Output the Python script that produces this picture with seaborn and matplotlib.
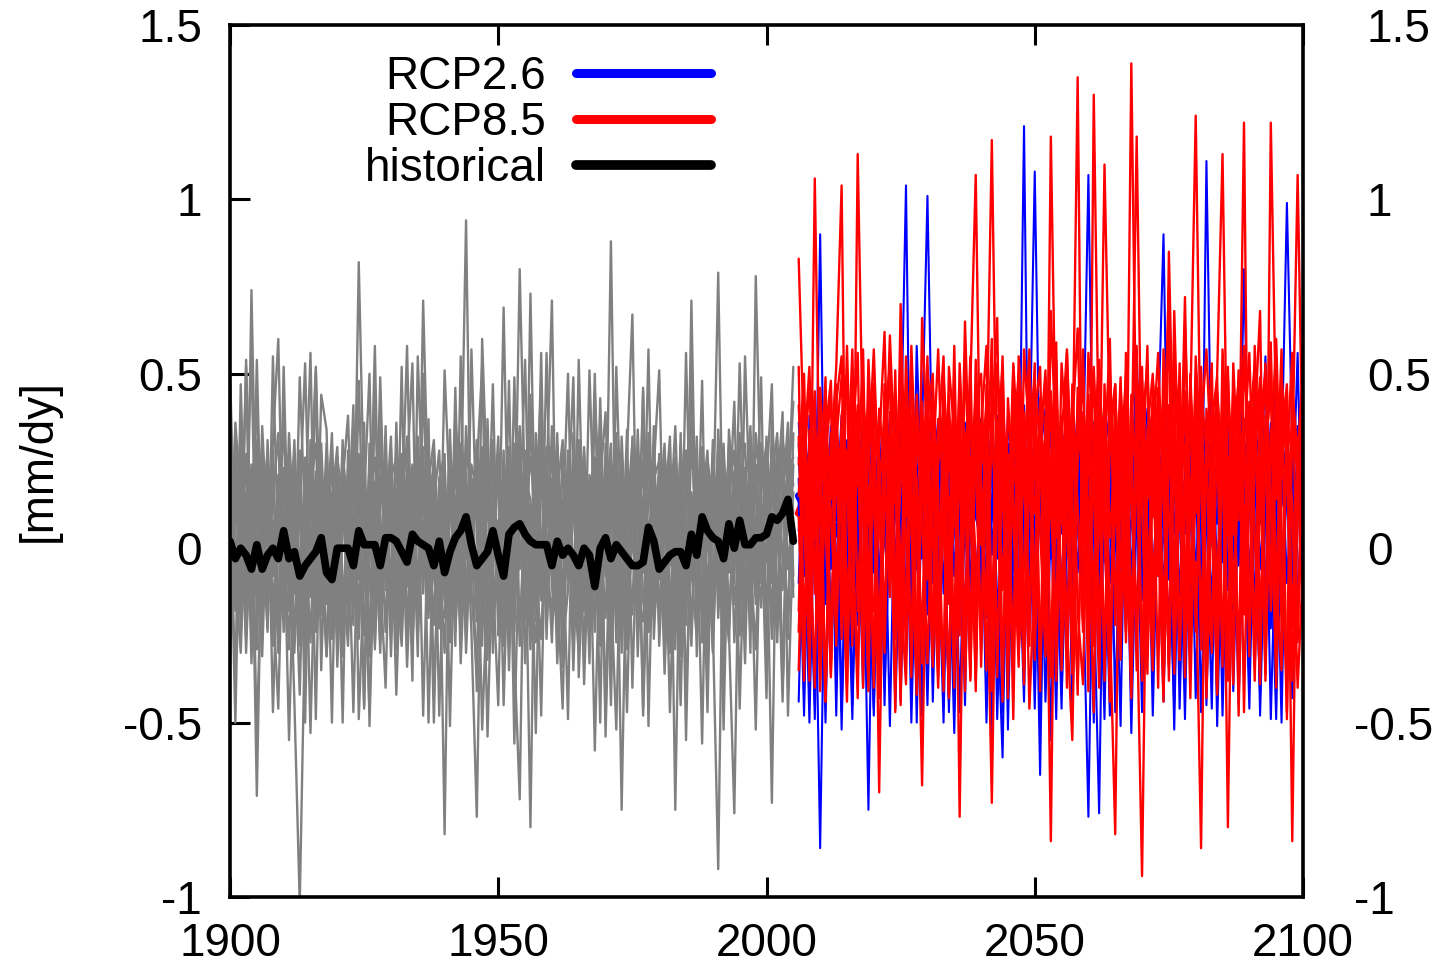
import numpy as np
import pandas as pd
import matplotlib
matplotlib.use("Agg")
import matplotlib.pyplot as plt
from matplotlib.lines import Line2D
from matplotlib.transforms import ScaledTranslation
import seaborn as sns

# ---------------- data (values in hundredths of mm/dy) ----------------
hist_start = 1900
proj_start = 2006

hist_mean = [2, -3, 0, -2, -6, 1, -6, -2, 0, -3,
             5, -3, -1, -8, -5, -3, -1, 3, -7, -9,
             0, 0, 0, -5, 5, 1, 1, 1, -5, 3,
             3, 2, -1, -4, 4, 2, 1, 0, -5, 2,
             -7, -1, 3, 5, 9, 1, -5, -3, -1, 5,
             -2, -8, 4, 6, 7, 4, 2, 1, 1, 1,
             -5, 2, -2, 0, -2, -5, 0, -2, -11, 0,
             3, -3, 1, -1, -3, -5, -5, -4, 6, 2,
             -6, -4, -2, -1, -1, -5, 4, -2, 9, 5,
             3, 2, -3, 7, 0, 8, 1, 1, 3, 3,
             4, 9, 8, 10, 14, 2]

rcp26_mean = [15, 12, 9, 11,
              7, 6, 8, 5, 3, -2, 8, 16, 12, 9,
              11, 13, 10, 5, 12, 17, 13, 9, 6, 14,
              20, 17, 19, 19, 14, 12, 10, 13, 11, 12,
              6, 2, -1, 7, 11, 14, 9, 6, 5, 9,
              7, 5, 8, 11, 8, 5, 9, 11, 12, 14,
              16, 10, 5, 4, 16, 12, 9, 14, 19, 17,
              18, 12, 18, 16, 13, 10, 8, 7, 5, 12,
              19, 15, 12, 10, 9, 12, 14, 15, 17, 13,
              11, 15, 19, 18, 20, 19, 18, 15, 13, 12,
              12]

rcp85_mean = [10, 14, 8, 16,
              11, 7, 13, 9, 15, 18, 12, 8, 14, 10,
              6, 12, 17, 13, 9, 15, 19, 11, 7, 14,
              16, 12, 9, 17, 13, 8, 15, 20, 14, 11,
              9, 16, 12, 18, 14, 10, 17, 13, 19, 15,
              11, 8, 14, 10, 17, 13, 20, 15, 18, 12,
              16, 21, 14, 18, 11, 9, 17, 15, 22, 16,
              13, 18, 15, 20, 12, 17, 14, 19, 16, 11,
              18, 15, 20, 14, 17, 22, 13, 19, 16, 21,
              15, 19, 17, 14, 23, 18, 16, 20, 15, 19,
              17]

# historical ensemble members, 1900-2005
hist_m01 = [12, -38, 47, -8, 21, -55, 5, -23, 31, 60,
            -12, 8, -44, -102, -20, 15, 52, -5, -31, 2,
            26, -18, 4, 41, -49, -6, 19, -27, 35, -9,
            14, -42, 7, 58, -14, 30, -3, 17, -50, 16,
            5, -27, 38, 10, 94, -12, -36, 21, -5, 47,
            -18, 9, 27, -56, 12, -4, 44, -21, 36, -10,
            18, -33, 6, 50, -15, 22, -39, 8, -24, 19,
            39, -11, -52, 15, 3, -19, 34, -7, 57, -26,
            9, 30, -16, 4, -45, 22, 13, -8, 48, -30,
            6, 25, -37, 17, -10, 53, 1, -20, 33, 12,
            -43, 37, 8, -12, 30, 18]
hist_m02 = [-20, 15, -5, 52, -28, 20, -12, 26, -47, 4,
            37, -18, 22, -6, 14, -53, 9, 27, -16, 3,
            -25, 19, 38, -10, 82, 12, -31, 45, -7, -40,
            20, 6, -24, 15, -38, 55, 10, -15, 29, -2,
            -30, 18, 2, -20, 35, 7, -41, 60, 14, -9,
            26, -45, 11, 3, 30, -19, 40, -8, -26, 15,
            -6, 33, -21, 12, 49, -37, 5, 19, -13, 36,
            -54, 8, 29, -30, 16, 1, -12, 46, -24, 11,
            21, -36, 6, 35, -9, -18, 57, -31, 14, 3,
            -22, -92, 20, 8, 42, -16, 23, -4, -29, 18,
            30, -10, 16, 39, -48, 7]
hist_m03 = [28, -8, -30, 12, 55, -22, 35, 4, -14, -46,
            16, 27, -9, 19, -38, 6, -18, 44, 34, -26,
            7, -31, 23, 15, -4, 36, -51, 9, -27, 21,
            -11, 28, 17, -34, 5, -16, 48, 22, -8, 12,
            -82, 26, -14, 30, -3, 20, 11, -28, 37, -19,
            4, 22, -35, 17, 8, 54, -13, -27, 19, 6,
            29, -10, -46, 20, -35, 13, 27, -5, -20, 43,
            -8, 88, -14, 21, -29, 10, 24, -48, 5, 16,
            -19, 11, 32, -24, 18, -7, 36, 12, -56, 25,
            14, -13, 28, -21, 6, 33, -26, 19, 2, -17,
            24, -6, 31, -40, 15, 42]
hist_m04 = [-10, 36, 14, -26, 9, 44, -31, 18, 5, -19,
            23, -4, 31, -17, 8, 56, -24, 12, -9, 29,
            -34, 6, 21, -15, 27, -2, -47, 17, 33, -12,
            25, -20, 10, 32, -28, 15, -7, 37, -43, 3,
            19, -12, 28, -33, 6, 24, 16, -52, -10, 31,
            -25, 14, 20, -6, 80, 12, -80, 26, 3, -17,
            35, 9, -29, -12, 22, -4, 18, -33, 45, 7,
            -20, 26, 4, -10, 34, -40, 15, 8, -18, 23,
            51, -14, -22, 19, 5, 28, -25, 16, -3, -36,
            20, 10, -18, 30, -27, 4, 17, 35, -12, -2,
            18, 47, -21, 14, 36, -8]
hist_m05 = [30, -14, 8, -22, 74, -5, 19, 12, -28, 21,
            -16, 33, 3, -42, 20, -10, 51, -35, 15, 5,
            18, -8, -28, 24, 11, -45, 30, 2, -14, 35,
            -22, 9, 27, -11, 16, -31, 50, -6, 13, 28,
            -15, 34, -24, 7, 22, -9, 29, 14, -54, 4,
            32, -19, 6, 25, -28, 17, 10, -11, 56, -23,
            12, 21, -16, 28, -7, -30, 24, 15, -58, 9,
            22, -25, 52, 1, -14, 27, -31, 12, 7, -20,
            -6, 26, 14, -29, 33, -44, 8, 24, -19, 17,
            4, 79, -10, -27, 21, 13, -33, 29, 16, -5,
            -24, 20, 33, -41, 28, 10]
hist_m06 = [-33, 22, 10, -17, -6, 29, 16, -24, 55, -3,
            8, -29, 17, 25, -13, 31, -22, 3, 19, -50,
            26, 13, -15, 9, -26, 21, -4, 58, -18, 7,
            32, -27, -3, 19, -21, 11, 27, -13, 23, -48,
            10, 2, -18, 29, 15, -24, -77, 17, 8, 25,
            -12, 28, -20, 49, -6, 20, 14, -53, 23, 5,
            -27, 16, 31, -9, 10, 26, -18, 51, 2, -23,
            13, 30, -19, 6, -47, 18, -4, 25, -15, 35,
            -28, 7, 20, -11, 29, -55, 16, 1, 22, -14,
            31, -20, 9, 26, -16, -1, 23, -30, 78, 11,
            -4, 29, -18, 22, 12, 52]
hist_m07 = [17, -50, 26, 3, -13, 31, -20, 10, 24, -27,
            -5, 20, -30, 13, 53, -8, 22, -19, 9, 27,
            -13, 31, -24, 5, 19, -46, 14, 26, -3, 18,
            -26, 36, -12, 8, 24, -17, 71, 10, -22, 20,
            27, -51, 15, -7, 30, 18, -21, 5, 25, -30,
            8, -15, 48, -24, 20, 2, -29, 16, 27, -6,
            -19, 24, 7, -49, 33, -11, 12, -25, 18, 28,
            -3, -34, 19, -75, 10, 30, -22, 14, 26, -9,
            16, -31, 24, 11, -20, 56, -6, -26, 29, 8,
            -17, 34, 2, -23, 15, 27, -12, 9, -52, 22,
            14, -26, 4, 31, 20, -11]
hist_m08 = [5, 28, -19, 54, -4, -29, 23, -11, 15, 33,
            -24, 11, 27, -14, 2, 24, -49, 30, -7, 14,
            29, -22, 9, -47, 16, 27, -10, -25, 21, 4,
            13, -16, 52, -28, 23, 3, -9, 19, 31, -23,
            -6, 21, -28, 55, -17, 12, 26, -13, -32, 18,
            22, 7, -27, 14, 35, -21, 73, -8, -14, 29,
            -11, -22, 25, 17, -28, 31, 3, -16, 22, -50,
            30, 14, -7, 27, -23, 6, 20, -46, 33, 1,
            12, -20, 29, -75, 17, 24, -9, 32, -27, 10,
            -30, 16, 30, -7, 22, -25, 55, 6, -14, 27,
            9, -20, 26, -3, -17, 24]
hist_m09 = [-27, 9, 33, -12, 24, 15, -22, 31, -8, 20,
            12, -55, 5, 28, -21, 17, 30, -10, 25, -18,
            3, 24, -19, 30, -9, 14, 50, -29, 12, 26,
            -31, 17, -6, 22, 53, -25, 8, -20, 18, 7,
            24, -19, 33, 12, -26, 57, 3, -15, 21, -8,
            -45, 25, 13, -18, 9, 27, -23, 33, -10, 19,
            71, -25, 14, -3, 27, 8, -31, 21, 13, -17,
            26, -12, 33, -26, 20, 11, -17, 45, -51, 15,
            -9, 25, -30, 18, 10, -22, 31, 4, 19, -25,
            22, -11, 14, -24, -76, 18, 30, -19, 5, 49,
            -28, 13, 20, 28, -6, 16]
hist_m10 = [22, -18, -2, 27, -33, 13, 29, -15, 8, -24,
            52, -9, 18, -28, 26, -14, 4, 21, -31, 16,
            -17, 27, 11, -22, 48, -7, 24, 14, -30, 19,
            6, -29, 25, 15, -19, 32, -13, 27, -8, -21,
            51, 13, -7, 24, -30, 9, 31, -18, 14, 27,
            -14, 69, -9, 30, -23, 5, 26, 10, -48, 21,
            4, 30, -22, 19, -29, 54, -7, 12, 26, -14,
            17, -45, 24, 9, -20, 32, -14, -21, 15, 28,
            -23, 20, -5, 26, -31, 15, 50, -18, 11, -47,
            27, 6, -25, 34, 12, -20, 8, 25, -16, 30,
            12, -73, 28, 17, -26, 33]
hist_m11 = [51, -6, 21, -30, 16, -71, 12, 27, -18, 9,
            -21, 25, -13, 49, 7, -27, 18, -6, 30, -11,
            14, -50, 28, 6, -17, 23, -29, 19, 9, -24,
            29, -9, -28, 16, 4, 27, -48, 13, 24, -15,
            -20, 30, 9, -25, 18, -3, 23, 52, -21, 12,
            17, -28, 29, -11, 24, -33, 7, 21, -15, 56,
            -8, 20, -34, 26, 13, -20, 29, -10, 50, -28,
            9, 23, -27, 32, -4, 19, 28, -15, -24, 20,
            25, 14, -47, 8, 23, -19, 71, -13, 27, 13,
            -29, 21, -6, 18, 28, -46, 11, -24, 24, -10,
            32, 5, -27, 19, 25, -14]
hist_m12 = [-14, 31, -24, 16, -20, 54, -9, 2, 28, -30,
            19, 3, -25, 21, -50, 28, 11, -17, 6, 33,
            -28, 16, -6, 27, 21, -25, 9, -13, 49, -4,
            20, 26, -18, 3, -27, 19, 29, -50, 10, -12,
            15, -22, 46, -16, 26, 20, -14, 29, -27, 7,
            -4, 18, 23, -30, -72, 28, -10, 12, 47, -26,
            20, -14, 28, 7, -24, 30, 15, -28, 9, 24,
            -49, 20, 12, -17, 27, 67, -21, 10, 30, -19,
            27, -16, 11, -23, 30, 4, -28, 20, 13, 28,
            -13, 28, -52, 20, 1, 24, -22, 31, -5, 15,
            -19, 25, 10, -44, 23, 26]

# RCP2.6 ensemble members, 2006-2100
rcp26_m1 = [20, -42, 38, 5,
            -86, 12, 31, -48, 27, -8, 40, 15, -40, 22,
            6, 35, -45, 26, -4, 30, 17, -25, 58, 9,
            -12, 28, 3, -50, 21, 36, -9, 14, 33, -20,
            25, 8, -46, 30, 16, -11, 39, 2, 121, -17,
            24, -52, 12, 35, -6, 20, 29, -24, 10, 37,
            -14, 23, 6, -49, 32, 15, -9, 38, -21, 18,
            27, -5, 34, 11, -44, 22, 4, 40, -18, 13,
            30, -12, 19, 36, -51, 9, 25, -3, 33, 14,
            -40, 29, 7, 55, -16, 21, 31, -10, 18, 35,
            5]
rcp26_m2 = [-10, 33, 8, -45,
            18, 42, -6, 24, -52, 13, 29, -14, 36, 2,
            -48, 20, 11, 38, -9, 26, 104, -18, 23, 7,
            31, -44, 16, 37, -2, 22, -47, 12, 27, 40,
            -13, 19, 35, -49, 8, 30, -7, 24, 41, -19,
            13, 32, -11, 21, 38, -42, 5, 28, 16, -9,
            -77, 20, 34, -4, 25, 9, -51, 37, 14, 27,
            -15, 31, 19, -8, 36, 2, -45, 26, 39, 11,
            22, -19, 33, 8, 28, -48, 15, 41, -5, 20,
            34, 6, -42, 27, 13, 54, -12, 23, -1, 30,
            17]
rcp26_m3 = [30, -8, 15, -49,
            24, 6, 35, -40, 19, 28, -10, 33, 12, -75,
            21, -13, 30, 9, 37, -44, 16, 25, -6, 34,
            101, 14, -21, 27, 4, -53, 20, 36, -11, 17,
            29, -16, 10, 38, -47, 23, 5, -8, 31, 18,
            -46, 27, 40, -3, 15, 33, -19, 22, 8, 35,
            12, -50, 26, 37, -10, 20, 30, -22, 9, 57,
            -6, 24, -48, 16, 33, 7, 28, -14, 21, 38,
            -9, 26, 12, -46, 35, 18, -7, 30, 2, 24,
            37, -18, 14, 29, -49, 10, 33, 19, -4, 26,
            38]
rcp26_m4 = [5, 27, -43, 34,
            -12, 22, 10, 37, -47, 15, 31, 3, -18, 27,
            36, -9, 18, -51, 24, 11, -14, 33, 20, -3,
            25, 38, -17, 9, 30, -8, 22, -45, 35, 13,
            2, -20, 28, 15, 37, -52, 19, 33, -4, 24,
            108, 11, -18, 26, 6, -46, 34, 17, 39, 1,
            22, -12, -76, 30, 12, 36, -5, 21, -44, 29,
            16, 40, -11, 24, 5, -22, 32, 14, -49, 27,
            9, 34, 20, -16, 26, -4, 38, -41, 17, 31,
            -8, 22, 36, -14, 28, 16, -50, 33, 8, 56,
            -15]
rcp26_m5 = [36, 12, -50, 18,
            29, -42, 17, 8, 38, -13, 23, -4, 30, 16,
            -46, 31, 2, -11, 28, 39, -19, 13, 26, -48,
            18, -6, 33, 22, -15, 29, 11, -23, 4, 35,
            21, -50, 14, -3, 32, 25, -18, 36, 9, -10,
            30, 18, -44, 7, 27, -14, 35, 20, -7, 23,
            107, 3, -17, 28, 39, -47, 15, 24, -8, 31,
            10, -20, 26, 37, -13, 19, -52, 30, 6, 23,
            35, -18, 111, 14, -11, 29, 5, 22, -45, 16,
            27, 39, -6, 18, -23, 34, 12, 25, -43, 7,
            28]
rcp26_m6 = [-44, 18, 29, -5,
            90, -16, 26, -9, 34, 5, -49, 21, 15, 38,
            -7, 25, -22, 16, 32, -2, 27, -50, 11, 22,
            -19, 34, 8, 26, -47, 17, 33, 4, -14, 29,
            37, 10, -46, 21, -9, 38, 13, -21, 27, 6,
            -15, 29, 21, -55, 17, 36, 2, -12, 31, 14,
            26, -20, 33, 9, -48, 24, 38, -1, 18, -24,
            32, 13, -16, 28, 21, -9, 36, -46, 15, 30,
            -43, 18, 37, 3, -13, 25, 32, -18, 10, -4,
            19, 33, -48, 11, 36, -8, 24, 99, 29, -19,
            21]
rcp26_m7 = [14, -48, 23, 33,
            -9, 27, -19, 13, 4, 31, -45, 19, 36, -12,
            17, 28, -40, 6, 35, 13, -16, 30, -50, 20,
            33, -10, 24, 12, -44, 37, 7, -18, 28, 14,
            -6, 34, 22, -14, -60, 26, 35, -24, 16, 30,
            2, -38, 25, 13, -49, 32, 19, -5, 27, -21,
            15, 36, -9, 22, 6, -19, 30, 24, -53, 12,
            29, -15, 23, 35, 90, -6, 18, 31, -24, 8,
            27, -47, 14, 33, -7, 21, 39, -16, 24, 11,
            -46, 30, 17, -12, 25, 38, -3, 14, 32, -18,
            24]
rcp26_m8 = [26, 4, -18, 31,
            11, -50, 20, 35, -14, 24, 12, -22, 28, 3,
            31, -15, 24, 36, -46, 8, 21, -8, 33, 15,
            -45, 19, 37, -13, 26, 9, -20, 31, 23, -9,
            16, 27, -54, 32, 11, -17, 24, 6, -44, 35,
            18, -65, 30, 9, -12, 26, 37, -48, 21, 5,
            33, -14, 20, 27, -41, 38, 8, -11, 29, 17,
            -47, 21, 34, -3, 15, 28, -18, 9, 37, -14,
            20, 31, -45, 22, 7, 36, -12, 27, -1, 80,
            13, -16, 29, 22, 3, -49, 26, 37, -10, 23,
            11]

# RCP8.5 ensemble members, 2006-2100
rcp85_m01 = [15, 40, -22, 106,
             8, -44, 33, 21, -12, 58, 3, -36, 38, -7,
             -18, 29, 62, -8, 24, -45, 36, 12, -28, 42,
             5, -34, 31, 55, -15, 9, 47, -41, 26, -3,
             -20, 18, 60, -37, 33, 5, 52, -19, 28, -46,
             -6, 37, 22, -84, 44, 16, -31, 35, 63, 2,
             30, -16, 46, 11, -38, 39, -5, -9, 139, 19,
             -33, 34, 50, 7, -44, 41, 27, -32, 64, 13,
             36, -21, 25, 53, -35, 31, 8, 45, -48, 29,
             56, 4, -39, 38, -12, 49, -23, 33, 10, -40,
             -5]
rcp85_m02 = [-35, 22, 48, 3,
             35, -44, 26, 52, 104, -30, 18, 41, -17, 30,
             44, -37, 12, 61, 21, -23, 55, 6, -42, 28,
             -9, 46, 16, -41, 39, 25, -13, 65, 11, -38,
             34, 58, -22, 22, -44, 43, 15, -30, -5, 49,
             26, -34, 38, 9, 54, -27, 32, 20, 135, -20,
             40, 17, -40, 47, 3, 29, -32, 56, 13, -16,
             -94, 24, 42, -8, 31, 62, -36, 18, 39, 5,
             47, -29, 33, 14, -42, 57, 23, -39, 41, 10,
             -24, 35, 68, -33, 27, 60, 7, -47, 37, 22,
             45]
rcp85_m03 = [32, -22, 19, 45,
             -38, 24, 11, -25, 38, 50, -28, 113, 27, -32,
             31, -42, 47, 18, -21, 70, 9, 55, -34, 23,
             36, 4, -40, 42, -8, -24, 53, 17, -37, 39,
             12, -35, 48, 33, -12, 27, -49, 44, 21, 57,
             -23, 30, 51, -37, 15, 38, 6, -28, 46, 25,
             -41, 130, 22, 42, -25, 10, 49, -9, -31, 37,
             16, 58, -30, 26, 43, -38, 33, 5, 72, -10,
             -4, -86, 40, 24, -27, 46, 12, 34, -36, 55,
             28, -29, 43, 18, 59, -40, 31, 47, -23, 23,
             36]
rcp85_m04 = [-18, 37, 10, -40,
             46, 20, -36, 33, 7, -44, 41, 27, -21, 54,
             14, -26, 36, 25, -47, 49, 3, -29, 44, 10,
             -33, 22, 57, 8, -43, 35, 19, -24, 47, 107,
             1, 38, -40, 29, 52, -25, 24, 11, -39, 45,
             33, 6, -31, 68, 27, -19, 56, 15, -42, 39,
             21, 50, -27, 31, -44, 44, 13, -24, 37, 58,
             -38, 27, 9, 46, -41, 34, -9, 53, -26, 40,
             124, 18, -32, 36, 49, -30, 26, 4, 51, -47,
             32, 43, -22, 24, 55, -8, -35, 39, -84, 30,
             14]
rcp85_m05 = [41, 6, -29, 28,
             12, 49, -33, 35, 21, -29, 30, 56, -24, 18,
             -40, 40, 23, -14, 51, -27, 33, 13, -36, 66,
             27, -31, 37, 20, -42, 50, -77, 31, 15, 45,
             -34, 28, 117, 10, 39, -31, 53, 26, -23, 34,
             48, -34, 19, 42, -38, 31, 57, 2, -39, 36,
             11, -47, 44, 25, 60, -22, 35, 16, -43, 50,
             29, 4, -35, 39, 22, 75, -26, 30, 45, -28,
             17, 52, -40, 28, -13, 43, -31, 36, 8, 122,
             -27, 26, 49, -38, 34, 14, 57, -49, 40, 21,
             -22]
rcp85_m06 = [9, -38, 34, 20,
             -41, 39, 14, 47, -26, 28, 5, -43, 43, 24,
             57, 11, -30, 31, 45, -11, -39, 38, 19, -30,
             52, 29, -37, 13, 44, -36, 34, 6, 55, -22,
             23, 41, -41, 37, 17, -27, 30, 50, -32, 26,
             10, 43, -29, 118, 21, 35, -40, 47, 12, -24,
             56, 28, -33, 39, -21, -82, 46, 18, 33, -35,
             48, 14, 37, -40, 57, 9, -22, 42, 26, -43,
             31, 50, -16, -27, 45, 24, -38, 53, 19, 37,
             -31, 58, 22, -36, 122, 34, -13, -30, 46, 27,
             51]
rcp85_m07 = [-24, 27, 52, -13,
             30, 16, -37, 42, 55, -20, 23, 38, -40, 47,
             21, -43, 45, 7, 36, -6, -25, 58, 15, -33,
             39, 50, -26, 26, 14, -40, 43, 32, -28, 54,
             17, -19, 35, 66, -37, 22, 9, -34, 57, 31,
             -32, 25, 49, 12, -21, 53, 28, -36, 37, 20,
             44, -28, 7, 110, 33, 47, -19, 25, -40, 38,
             52, -31, 18, 41, 29, -34, 68, 11, -15, 45,
             23, 39, -43, 14, 50, 113, 6, -29, 35, -7,
             42, -34, 16, 53, -18, 31, 20, 45, -38, 11,
             33]
rcp85_m08 = [24, 50, -19, 13,
             -29, 33, 48, -12, 26, -39, 45, 18, 57, -23,
             37, -70, 28, 51, -14, 19, 42, -37, 34, 10,
             55, -30, 24, 40, -16, 58, -23, 28, 45, -41,
             36, 19, -28, 53, 27, -43, 44, 14, 39, -28,
             46, 30, -27, 24, 59, -35, 16, 41, -18, -39,
             35, 52, 14, -29, 29, 47, -26, 38, 20, 118,
             11, -36, 48, 32, -19, 25, 54, -32, 17, 43,
             -24, 34, 57, 21, -41, 41, -80, 30, 48, 4,
             26, -30, 38, 50, 12, -35, 44, 25, 56, -26,
             28]
rcp85_m09 = [52, -30, 30, 16,
             40, 7, -34, 31, 49, 19, -25, 36, 10, -41,
             47, 24, -22, 39, 13, 55, -31, 31, 6, -68,
             28, 44, -10, -35, 52, 33, -18, 23, -38, 41,
             50, 4, -73, 27, 43, 15, -30, 55, 29, -21,
             38, 52, -16, -33, 35, 7, 48, -26, 25, 57,
             -25, 31, 54, 3, -37, 36, 22, 50, -21, 27,
             40, -18, 29, 56, 13, -33, 37, 48, -9, -28,
             55, 25, -21, 43, 30, -34, 49, 15, 38, -19,
             33, 53, -26, 29, 45, -14, -31, 38, 26, 107,
             18]
rcp85_m10 = [83, 29, -38, 38,
             -15, 26, 44, -28, 33, 14, 57, -18, 29, 40,
             -35, 16, 38, 52, -26, 27, 45, 20, -39, 34,
             13, 31, -33, 49, 22, 42, -25, 56, 8, 25,
             -29, 47, 30, 12, 55, -14, 28, 41, -35, 20,
             53, -41, 33, 45, 3, 24, -22, -55, 30, 48,
             -13, 26, 41, -38, 50, 19, 32, -27, 44, 14,
             34, 53, -12, 21, -34, 85, 15, 36, -37, 50,
             10, 45, 28, -30, 37, 18, 52, -16, 27, 58,
             21, -38, 35, 46, 16, -20, 49, 30, 13, -27,
             41]

hist_members = [hist_m01, hist_m02, hist_m03, hist_m04, hist_m05, hist_m06,
                hist_m07, hist_m08, hist_m09, hist_m10, hist_m11, hist_m12]
rcp26_members = [rcp26_m1, rcp26_m2, rcp26_m3, rcp26_m4,
                 rcp26_m5, rcp26_m6, rcp26_m7, rcp26_m8]
rcp85_members = [rcp85_m01, rcp85_m02, rcp85_m03, rcp85_m04, rcp85_m05,
                 rcp85_m06, rcp85_m07, rcp85_m08, rcp85_m09, rcp85_m10]

legend_labels = ["RCP2.6", "RCP8.5", "historical"]
x_ticks = [1900, 1950, 2000, 2050, 2100]
y_ticks = [-1, -0.5, 0, 0.5, 1, 1.5]
y_tick_labels = ["-1", "-0.5", "0", "0.5", "1", "1.5"]
y_label = "[mm/dy]"


def members_frame(members, start):
    rows = []
    for i, vals in enumerate(members):
        for k, v in enumerate(vals):
            rows.append((i, start + k, v / 100.0))
    return pd.DataFrame(rows, columns=["member", "year", "value"])


def mean_frame(vals, start):
    return pd.DataFrame({"year": np.arange(start, start + len(vals)),
                         "value": np.asarray(vals) / 100.0})


df_hist = members_frame(hist_members, hist_start)
df_26 = members_frame(rcp26_members, proj_start)
df_85 = members_frame(rcp85_members, proj_start)
dm_hist = mean_frame(hist_mean, hist_start)
dm_26 = mean_frame(rcp26_mean, proj_start)
dm_85 = mean_frame(rcp85_mean, proj_start)

# ---------------- style ----------------
sns.set_style("ticks")
plt.rcParams["font.family"] = ["Liberation Sans", "DejaVu Sans"]
plt.rcParams["axes.unicode_minus"] = False
for key in ["text.color", "axes.labelcolor", "xtick.color", "ytick.color",
            "axes.edgecolor"]:
    plt.rcParams[key] = "black"

FS = 33
GREY = "#808080"
BLUE = "#0000ff"
RED = "#ff0000"

fig = plt.figure(figsize=(14.39, 9.67), dpi=100)
ax = fig.add_axes([230 / 1439, 1 - 897 / 967, 1073 / 1439, 872 / 967])

sns.lineplot(data=df_hist, x="year", y="value", units="member", estimator=None,
             color=GREY, lw=1.7, legend=False, ax=ax)
sns.lineplot(data=dm_hist, x="year", y="value", color="black", lw=5.5,
             legend=False, ax=ax)
sns.lineplot(data=dm_85, x="year", y="value", color=RED, lw=5.5,
             legend=False, ax=ax)
sns.lineplot(data=df_26, x="year", y="value", units="member", estimator=None,
             color=BLUE, lw=1.5, legend=False, ax=ax)
sns.lineplot(data=dm_26, x="year", y="value", color=BLUE, lw=5.5,
             legend=False, ax=ax)
sns.lineplot(data=df_85, x="year", y="value", units="member", estimator=None,
             color=RED, lw=1.7, legend=False, ax=ax)

ax.set_xlim(1900, 2100)
ax.set_ylim(-1, 1.5)
ax.set_xticks(x_ticks)
ax.set_xticklabels([str(t) for t in x_ticks])
ax.set_yticks(y_ticks)
ax.set_yticklabels(y_tick_labels)
ax.set_xlabel("")
ax.set_ylabel(y_label, fontsize=FS)
ax.yaxis.set_label_coords(-0.158, 0.5)

for sp in ax.spines.values():
    sp.set_visible(True)
    sp.set_linewidth(2.6)
    sp.set_color("black")

ax.tick_params(axis="both", which="major", direction="in", length=14.5, width=2.2,
               top=True, right=True, labelsize=FS, colors="black")
ax.tick_params(axis="x", pad=18)
ax.tick_params(axis="y", pad=20)

ax2 = ax.twinx()
ax2.set_ylim(ax.get_ylim())
ax2.set_yticks(y_ticks)
ax2.set_yticklabels(y_tick_labels)
ax2.tick_params(axis="y", length=0, pad=46, labelsize=FS, colors="black")
for sp in ax2.spines.values():
    sp.set_visible(False)
shift = ScaledTranslation(-13 / 100, 0, fig.dpi_scale_trans)
for lbl in ax2.get_yticklabels():
    if lbl.get_text().startswith("-"):
        lbl.set_transform(lbl.get_transform() + shift)

handles = [Line2D([], [], color=BLUE, lw=6.5),
           Line2D([], [], color=RED, lw=6.5),
           Line2D([], [], color="black", lw=7.0)]
ax.legend(handles, legend_labels, loc="upper left", bbox_to_anchor=(0.1255, 0.966),
          frameon=False, markerfirst=False, fontsize=FS, handlelength=2.95,
          handletextpad=0.65, labelspacing=0.05, borderpad=0, borderaxespad=0)

fig.savefig("out.png", dpi=100)
